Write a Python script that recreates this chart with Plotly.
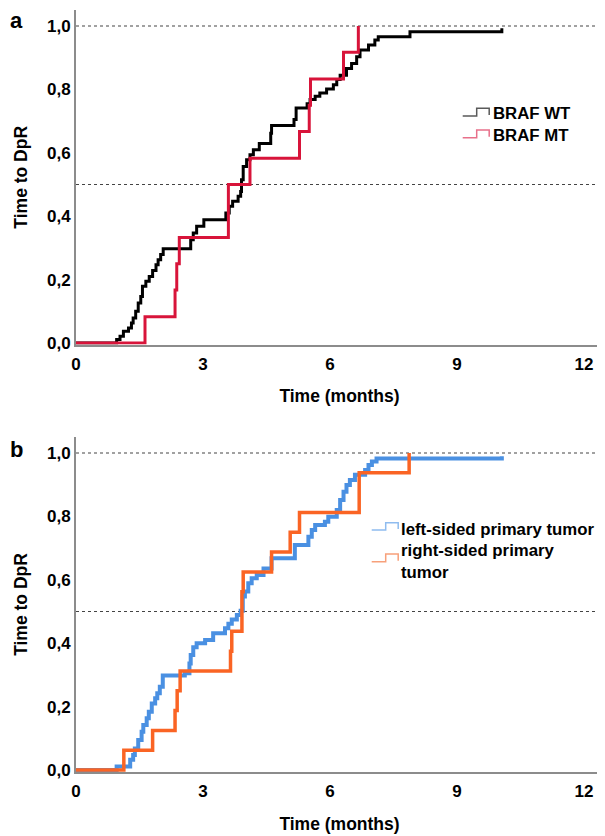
import plotly.graph_objects as go

# ---------------- data ----------------
panel_labels = ["a", "b"]
x_ticks = [0, 3, 6, 9, 12]
y_ticks = [0.0, 0.2, 0.4, 0.6, 0.8, 1.0]
y_ticktext = ["0,0", "0,2", "0,4", "0,6", "0,8", "1,0"]
ref_lines = [0.5, 1.0]

a_names = ["BRAF WT", "BRAF MT"]
a_wt_time = [0.96, 1.04, 1.12, 1.24, 1.31, 1.35, 1.41, 1.47, 1.53, 1.57,
             1.65, 1.73, 1.81, 1.89, 1.94, 2.00, 2.06, 2.71, 2.77, 2.85,
             3.02, 3.54, 3.62, 3.70, 3.83, 3.89, 3.91, 3.95, 4.03, 4.11,
             4.19, 4.33, 4.60, 4.62, 5.15, 5.20, 5.46, 5.53, 5.65, 5.76,
             5.92, 6.08, 6.16, 6.24, 6.39, 6.51, 6.63, 6.71, 6.91, 7.06,
             7.14, 7.89, 10.06]
a_wt_val = [0.011, 0.021, 0.037, 0.047, 0.063, 0.079, 0.100, 0.126, 0.147, 0.179,
            0.195, 0.210, 0.229, 0.247, 0.263, 0.279, 0.297, 0.326, 0.347, 0.368,
            0.389, 0.410, 0.431, 0.447, 0.463, 0.478, 0.515, 0.557, 0.578, 0.594,
            0.610, 0.629, 0.662, 0.686, 0.705, 0.741, 0.755, 0.768, 0.778, 0.789,
            0.801, 0.815, 0.831, 0.845, 0.866, 0.882, 0.903, 0.924, 0.940, 0.956,
            0.966, 0.982, 0.993]
a_mt_time = [1.63, 2.34, 2.38, 2.44, 3.60, 4.11, 5.28, 5.51, 5.54, 6.32, 6.67]
a_mt_val = [0.083, 0.167, 0.250, 0.333, 0.500, 0.583, 0.667, 0.750, 0.833, 0.917, 1.000]

b_names = ["left-sided primary tumor", "right-sided primary<br>tumor"]
b_left_time = [0.96, 1.28, 1.35, 1.39, 1.47, 1.55, 1.59, 1.67, 1.72, 1.79,
               1.87, 1.92, 1.98, 2.05, 2.57, 2.68, 2.71, 2.77, 2.85, 3.05,
               3.24, 3.52, 3.60, 3.68, 3.80, 3.89, 3.94, 3.99, 4.07, 4.15,
               4.27, 4.43, 4.62, 5.17, 5.49, 5.57, 5.65, 5.88, 5.96, 6.16,
               6.24, 6.32, 6.39, 6.47, 6.59, 6.83, 6.91, 6.99, 7.10, 10.06]
b_left_val = [0.011, 0.032, 0.047, 0.068, 0.095, 0.121, 0.142, 0.163, 0.184, 0.210,
              0.226, 0.242, 0.263, 0.298, 0.305, 0.336, 0.363, 0.387, 0.400, 0.410,
              0.431, 0.447, 0.461, 0.475, 0.489, 0.502, 0.547, 0.563, 0.589, 0.605,
              0.615, 0.636, 0.668, 0.710, 0.736, 0.757, 0.773, 0.783, 0.799, 0.820,
              0.852, 0.878, 0.899, 0.915, 0.931, 0.946, 0.962, 0.973, 0.983, 0.990]
b_right_time = [1.13, 1.81, 2.34, 2.39, 2.46, 3.65, 3.68, 3.92, 3.95, 4.62,
                5.06, 5.28, 6.69, 7.87]
b_right_val = [0.0625, 0.125, 0.1875, 0.25, 0.3125, 0.375, 0.4375, 0.5625, 0.625, 0.6875,
               0.75, 0.8125, 0.9375, 1.0]

# ---------------- layout geometry (screen pixels) ----------------
OFF = 8                       # page body margin: figure origin sits at (8, 8)
W, H = 605 - OFF, 836 - OFF   # figure size that fits the window
PLOT_L, PLOT_R, PLOT_T, PLOT_B = 76, 603, 10, 772   # plot area in screen px
L, T = PLOT_L - OFF, PLOT_T - OFF
R, B = W - (PLOT_R - OFF), H - (PLOT_B - OFF)
PW, PH = W - L - R, H - T - B
SCALE = 317.0  # px per unit of y


def px(x):
    return (x - PLOT_L) / PW


def py(y):
    return (PLOT_B - y) / PH


FONT = "Liberation Sans, Arial, sans-serif"
FS = 17.5
TXT = "#000000"
BLACK, RED = "#000000", "#d8143a"
BLUE, ORANGE = "#4a90e2", "#fa6424"

fig = go.Figure()


def add_curve(times, vals, color, width, xa, ya, name):
    fig.add_trace(go.Scatter(
        x=[0] + list(times), y=[0] + list(vals), mode="lines", name=name.replace("<br>", " "),
        line=dict(shape="hv", color=color, width=width),
        xaxis=xa, yaxis=ya, showlegend=False, hoverinfo="skip"))


add_curve(a_wt_time, a_wt_val, BLACK, 3, "x", "y", a_names[0])
add_curve(a_mt_time, a_mt_val, RED, 3, "x", "y", a_names[1])
add_curve(b_left_time, b_left_val, BLUE, 4, "x2", "y2", b_names[0])
add_curve(b_right_time, b_right_val, ORANGE, 3.5, "x2", "y2", b_names[1])


def yaxis_cfg(zero_px, top_px, bottom_px):
    lo = -(bottom_px - zero_px) / SCALE
    hi = lo + (bottom_px - top_px) / SCALE
    return dict(domain=[max(0.0, py(bottom_px)), min(1.0, py(top_px))], range=[lo, hi])


tfont = dict(family=FONT, size=FS, color=TXT, weight="bold")
lfont = dict(family=FONT, size=16.8, color=TXT, weight="bold")
tickfont = dict(family=FONT, size=17, color=TXT, weight="bold")
axis_common = dict(showline=True, linecolor="#8c8c8c", linewidth=2, showgrid=False,
                   zeroline=False, ticks="", automargin=False, tickfont=tickfont)

xa = dict(axis_common, range=[0, PW / 42.33], tickvals=x_ticks, ticklabelstandoff=3,
          title=dict(text="Time (months)", font=tfont, standoff=17))
ya_common = dict(axis_common, tickvals=y_ticks, ticktext=y_ticktext,
                 title=dict(text="Time to DpR", font=tfont, standoff=15))

ya1 = yaxis_cfg(343, 10, 344.6)
ya2 = yaxis_cfg(770, 437, 772)

fig.update_layout(
    width=W, height=H, margin=dict(l=L, r=R, t=T, b=B, autoexpand=False),
    paper_bgcolor="white", plot_bgcolor="white",
    xaxis=dict(xa, anchor="y"),
    yaxis=dict(ya_common, anchor="x", **ya1),
    xaxis2=dict(xa, anchor="y2"),
    yaxis2=dict(ya_common, anchor="x2", **ya2),
    font=dict(family=FONT, size=FS, color=TXT),
)

# dotted reference lines
for yref in ["y", "y2"]:
    xr = "x domain" if yref == "y" else "x2 domain"
    for v in ref_lines:
        fig.add_shape(type="line", xref=xr, yref=yref, x0=0, x1=1, y0=v, y1=v,
                      line=dict(color="#444444", width=1.2, dash="dot"), layer="below")

# panel letters
for lab, ypix in zip(panel_labels, [20, 449]):
    fig.add_annotation(text="<b>%s</b>" % lab, xref="paper", yref="paper",
                       x=px(16.5), y=py(ypix), xanchor="center", yanchor="middle",
                       showarrow=False, borderpad=0,
                       font=dict(family=FONT, size=22, color="#000"))


# manual legends with step icons
def step_icon(x0, ylow, yhigh, color):
    pts = [(x0, ylow), (x0 + 14, ylow), (x0 + 14, yhigh), (x0 + 26.5, yhigh), (x0 + 26.5, ylow - 1)]
    path = "M " + " L ".join("%.5f,%.5f" % (px(a), py(b)) for a, b in pts)
    fig.add_shape(type="path", path=path, xref="paper", yref="paper",
                  line=dict(color=color, width=1.5))


def legend_text(txt, x, y):
    fig.add_annotation(text=txt, xref="paper", yref="paper", x=px(x), y=py(y),
                       xanchor="left", yanchor="middle", align="left", showarrow=False,
                       font=lfont)


step_icon(462.7, 116, 108.3, "#5a5a5a")
legend_text(a_names[0], 491, 113.3)
step_icon(462.7, 137.7, 130, "#e8708a")
legend_text(a_names[1], 491, 135)

step_icon(371.7, 530, 522.7, "#8fbcef")
legend_text(b_names[0], 399, 529.3)
step_icon(371.7, 561.7, 554, "#f7a07a")
legend_text(b_names[1], 399, 561)

fig.write_html("out.html")
